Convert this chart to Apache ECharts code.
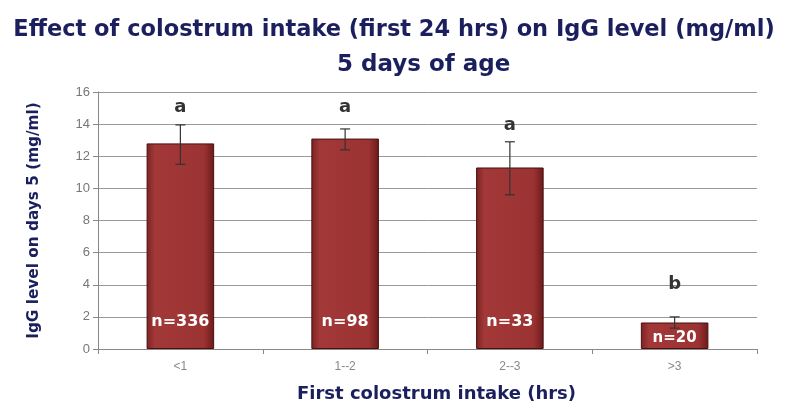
<!DOCTYPE html>
<html><head><meta charset="utf-8">
<script src="https://cdn.jsdelivr.net/npm/echarts@6/dist/echarts.min.js"></script>
<style>html,body{margin:0;padding:0;background:#fff}#c{width:788px;height:408px}</style>
</head><body><div id="c"></div>
<script>
const categories = ['<1', '1--2', '2--3', '>3'];
const igg = [12.8, 13.1, 11.3, 1.65];
const errLow = [11.5, 12.4, 9.6, 1.3];
const errHigh = [13.95, 13.7, 12.9, 2.0];
const sigLetters = ['a', 'a', 'a', 'b'];
const letterLevels = [15.05, 15.05, 13.95, 4.05];
const nLabels = ['n=336', 'n=98', 'n=33', 'n=20'];
const yTicks = [0, 2, 4, 6, 8, 10, 12, 14, 16];

const navy = '#1c1f5e';
const FF = '"DejaVu Sans"';
const chart = echarts.init(document.getElementById('c'));
chart.setOption({
  animation: false,
  title: [
    {text: 'Effect of colostrum intake (first 24 hrs) on IgG level (mg/ml)', left: 'center', top: 14,
     textStyle: {fontFamily: FF, fontWeight: 'bold', fontSize: 22.5, color: navy}},
    {text: '5 days of age', left: 332, top: 49,
     textStyle: {fontFamily: FF, fontWeight: 'bold', fontSize: 23, color: navy}}
  ],
  grid: {left: 98, right: 31, top: 92, bottom: 57},
  xAxis: {
    type: 'category', data: categories,
    name: 'First colostrum intake (hrs)', nameLocation: 'middle', nameGap: 36,
    nameTextStyle: {fontFamily: FF, fontWeight: 'bold', fontSize: 18, color: navy, padding: [0, 0, 0, 18]},
    axisLine: {lineStyle: {color: '#888'}},
    axisTick: {show: true, lineStyle: {color: '#888'}},
    axisLabel: {color: '#888', fontSize: 12, margin: 12, fontFamily: 'Liberation Sans'}
  },
  yAxis: {
    type: 'value', min: yTicks[0], max: yTicks[yTicks.length - 1], interval: 2,
    name: 'IgG level on days 5 (mg/ml)', nameLocation: 'middle', nameGap: 56,
    nameTextStyle: {fontFamily: FF, fontWeight: 'bold', fontSize: 15.3, color: navy},
    axisLine: {show: true, lineStyle: {color: '#888'}},
    axisTick: {show: true, lineStyle: {color: '#888'}},
    axisLabel: {color: '#777', fontSize: 13, fontFamily: 'Liberation Sans'},
    splitLine: {lineStyle: {color: '#999', width: 1}}
  },
  series: [
    {
      type: 'bar', barWidth: '41%',
      data: igg.map((v, i) => i === 3
        ? {value: v, label: {distance: 3, fontSize: 15}}
        : v),
      itemStyle: {
        color: new echarts.graphic.LinearGradient(0, 0, 1, 0, [
          {offset: 0, color: '#7a2222'}, {offset: 0.12, color: '#a23838'},
          {offset: 0.85, color: '#9c3333'}, {offset: 1, color: '#6a1a1a'}
        ]),
        borderColor: '#4a1010', borderWidth: 1
      },
      label: {
        show: true, position: 'insideBottom', distance: 19,
        formatter: p => nLabels[p.dataIndex],
        color: '#fff', fontWeight: 'bold', fontSize: 16, fontFamily: FF
      }
    },
    {
      type: 'custom',
      data: categories.map((c, i) => [i, errLow[i], errHigh[i], letterLevels[i]]),
      renderItem: (params, api) => {
        const i = api.value(0);
        const lo = api.coord([i, api.value(1)]);
        const hi = api.coord([i, api.value(2)]);
        const lt = api.coord([i, api.value(3)]);
        const hw = 5;
        return {
          type: 'group',
          children: [
            {type: 'line', shape: {x1: hi[0], y1: hi[1], x2: lo[0], y2: lo[1]}, style: {stroke: '#333', lineWidth: 1.2}},
            {type: 'line', shape: {x1: hi[0] - hw, y1: hi[1], x2: hi[0] + hw, y2: hi[1]}, style: {stroke: '#333', lineWidth: 1.2}},
            {type: 'line', shape: {x1: lo[0] - hw, y1: lo[1], x2: lo[0] + hw, y2: lo[1]}, style: {stroke: '#333', lineWidth: 1.2}},
            {type: 'text', x: lt[0], y: lt[1], style: {text: sigLetters[i], textAlign: 'center', textVerticalAlign: 'middle',
              fill: '#333', font: 'bold 18px "DejaVu Sans"'}}
          ]
        };
      },
      z: 5
    }
  ]
});
</script></body></html>
